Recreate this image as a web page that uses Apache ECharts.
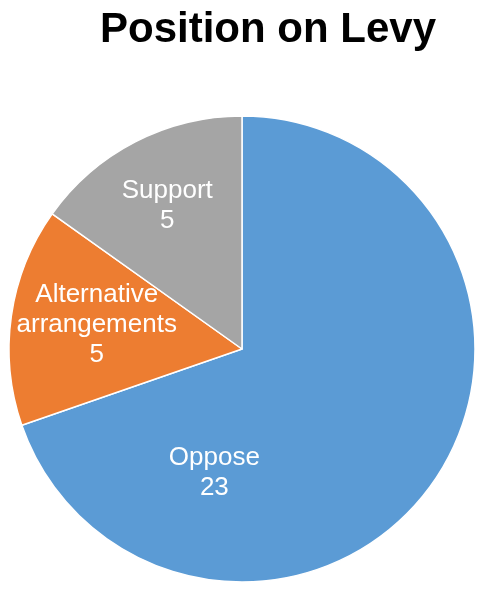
<!DOCTYPE html>
<html>
<head>
<meta charset="utf-8">
<script src="https://cdn.jsdelivr.net/npm/echarts@6/dist/echarts.min.js"></script>
<style>
  html, body { margin: 0; padding: 0; background: #fff; }
  #chart { width: 477px; height: 590px; }
</style>
</head>
<body>
<div id="chart"></div>
<script>
// categories and values
const positions = ['Oppose', 'Alternative arrangements', 'Support']
const counts = [23, 5, 5]
const sliceColors = ['#5B9BD5', '#ED7D31', '#A5A5A5']
// nudges so labels sit where Excel put them
const labelShift = [[-125, 55], [-27, -7], [-20, -37]]

const chart = echarts.init(document.getElementById('chart'))

const option = {
    animation: false,
    title: {
        text: 'Position on Levy',
        left: 100,
        top: 9,
        padding: 0,
        textStyle: {
            fontFamily: 'Liberation Sans',
            fontSize: 42,
            fontWeight: 'bold',
            color: '#000'
        }
    },
    series: [{
        type: 'pie',
        center: [242, 349],
        radius: 233,
        startAngle: 90,
        clockwise: true,
        itemStyle: {
            borderColor: '#fff',
            borderWidth: 1.5
        },
        label: {
            show: true,
            position: 'inside',
            color: '#fff',
            fontFamily: 'Liberation Sans',
            fontSize: 26,
            lineHeight: 30,
            formatter: p => p.name.replace(' ', '\n') + '\n' + p.value
        },
        labelLayout: p => ({
            dx: labelShift[p.dataIndex][0],
            dy: labelShift[p.dataIndex][1]
        }),
        emphasis: { disabled: true },
        data: positions.map((name, i) => ({
            name,
            value: counts[i],
            itemStyle: { color: sliceColors[i] }
        }))
    }]
}

chart.setOption(option)
</script>
</body>
</html>
